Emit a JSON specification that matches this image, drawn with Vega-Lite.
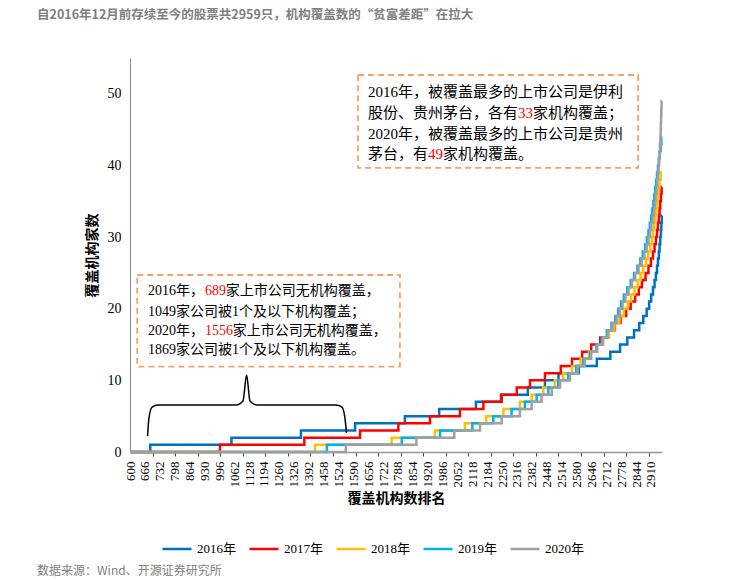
{
  "$schema": "https://vega.github.io/schema/vega-lite/v6.json",
  "width": 532,
  "height": 394,
  "autosize": "none",
  "padding": {"left": 130, "top": 58, "right": 72, "bottom": 128},
  "background": "white",
  "title": {
    "text": "自2016年12月前存续至今的股票共2959只，机构覆盖数的“贫富差距”在拉大",
    "anchor": "start",
    "frame": "group",
    "dx": -93,
    "offset": 37,
    "font": "Noto Sans CJK SC",
    "fontSize": 12.5,
    "fontWeight": "bold",
    "color": "#808080"
  },
  "config": {
    "view": {"stroke": null},
    "axis": {"labelColor": "#000", "titleColor": "#000"},
    "axisX": {"labelOverlap": false, "labelFlush": false, "labelBound": false, "labelAngle": 270, "tickSize": 4, "tickColor": "#444", "labelPadding": 5, "grid": false},
    "axisY": {"labelOverlap": false, "grid": false, "ticks": false}
  },
  "data": {"values": [{}]},
  "datasets": {
    "series": [
      {"s":"2016年","r":600,"v":0},{"s":"2016年","r":690,"v":1},{"s":"2016年","r":1050,"v":2},{"s":"2016年","r":1358,"v":3},{"s":"2016年","r":1598,"v":4},{"s":"2016年","r":1819,"v":5},{"s":"2016年","r":1971,"v":6},{"s":"2016年","r":2134,"v":7},{"s":"2016年","r":2245,"v":8},{"s":"2016年","r":2364,"v":9},{"s":"2016年","r":2440,"v":10},{"s":"2016年","r":2500,"v":11},{"s":"2016年","r":2590,"v":12},{"s":"2016年","r":2670,"v":13},{"s":"2016年","r":2730,"v":14},{"s":"2016年","r":2773,"v":15},{"s":"2016年","r":2805,"v":16},{"s":"2016年","r":2835,"v":17},{"s":"2016年","r":2858,"v":18},{"s":"2016年","r":2876,"v":19},{"s":"2016年","r":2891,"v":20},{"s":"2016年","r":2902,"v":21},{"s":"2016年","r":2911,"v":22},{"s":"2016年","r":2919,"v":23},{"s":"2016年","r":2926,"v":24},{"s":"2016年","r":2932,"v":25},{"s":"2016年","r":2937,"v":26},{"s":"2016年","r":2941,"v":27},{"s":"2016年","r":2945,"v":28},{"s":"2016年","r":2948,"v":29},{"s":"2016年","r":2951,"v":30},{"s":"2016年","r":2954,"v":31},{"s":"2016年","r":2956,"v":32},{"s":"2016年","r":2958,"v":33},{"s":"2016年","r":2959,"v":33},
      {"s":"2017年","r":600,"v":0},{"s":"2017年","r":999,"v":1},{"s":"2017年","r":1373,"v":2},{"s":"2017年","r":1620,"v":3},{"s":"2017年","r":1790,"v":4},{"s":"2017年","r":1930,"v":5},{"s":"2017年","r":2063,"v":6},{"s":"2017年","r":2167,"v":7},{"s":"2017年","r":2248,"v":8},{"s":"2017年","r":2315,"v":9},{"s":"2017年","r":2374,"v":10},{"s":"2017年","r":2440,"v":11},{"s":"2017年","r":2510,"v":12},{"s":"2017年","r":2560,"v":13},{"s":"2017年","r":2605,"v":14},{"s":"2017年","r":2645,"v":15},{"s":"2017年","r":2685,"v":16},{"s":"2017年","r":2720,"v":17},{"s":"2017年","r":2750,"v":18},{"s":"2017年","r":2775,"v":19},{"s":"2017年","r":2800,"v":20},{"s":"2017年","r":2820,"v":21},{"s":"2017年","r":2840,"v":22},{"s":"2017年","r":2856,"v":23},{"s":"2017年","r":2870,"v":24},{"s":"2017年","r":2886,"v":25},{"s":"2017年","r":2899,"v":26},{"s":"2017年","r":2910,"v":27},{"s":"2017年","r":2919,"v":28},{"s":"2017年","r":2926,"v":29},{"s":"2017年","r":2932,"v":30},{"s":"2017年","r":2937,"v":31},{"s":"2017年","r":2941,"v":32},{"s":"2017年","r":2945,"v":33},{"s":"2017年","r":2948,"v":34},{"s":"2017年","r":2951,"v":35},{"s":"2017年","r":2954,"v":36},{"s":"2017年","r":2957,"v":37},{"s":"2017年","r":2959,"v":37},
      {"s":"2018年","r":600,"v":0},{"s":"2018年","r":1420,"v":1},{"s":"2018年","r":1760,"v":2},{"s":"2018年","r":1952,"v":3},{"s":"2018年","r":2085,"v":4},{"s":"2018年","r":2179,"v":5},{"s":"2018年","r":2256,"v":6},{"s":"2018年","r":2329,"v":7},{"s":"2018年","r":2381,"v":8},{"s":"2018年","r":2432,"v":9},{"s":"2018年","r":2484,"v":10},{"s":"2018年","r":2521,"v":11},{"s":"2018年","r":2560,"v":12},{"s":"2018年","r":2598,"v":13},{"s":"2018年","r":2635,"v":14},{"s":"2018年","r":2668,"v":15},{"s":"2018年","r":2698,"v":16},{"s":"2018年","r":2724,"v":17},{"s":"2018年","r":2748,"v":18},{"s":"2018年","r":2770,"v":19},{"s":"2018年","r":2790,"v":20},{"s":"2018年","r":2807,"v":21},{"s":"2018年","r":2822,"v":22},{"s":"2018年","r":2837,"v":23},{"s":"2018年","r":2851,"v":24},{"s":"2018年","r":2864,"v":25},{"s":"2018年","r":2876,"v":26},{"s":"2018年","r":2888,"v":27},{"s":"2018年","r":2898,"v":28},{"s":"2018年","r":2906,"v":29},{"s":"2018年","r":2913,"v":30},{"s":"2018年","r":2919,"v":31},{"s":"2018年","r":2924,"v":32},{"s":"2018年","r":2929,"v":33},{"s":"2018年","r":2933,"v":34},{"s":"2018年","r":2937,"v":35},{"s":"2018年","r":2940,"v":36},{"s":"2018年","r":2944,"v":37},{"s":"2018年","r":2948,"v":38},{"s":"2018年","r":2953,"v":39},{"s":"2018年","r":2959,"v":39},
      {"s":"2019年","r":600,"v":0},{"s":"2019年","r":1473,"v":1},{"s":"2019年","r":1805,"v":2},{"s":"2019年","r":1975,"v":3},{"s":"2019年","r":2118,"v":4},{"s":"2019年","r":2211,"v":5},{"s":"2019年","r":2292,"v":6},{"s":"2019年","r":2351,"v":7},{"s":"2019年","r":2403,"v":8},{"s":"2019年","r":2455,"v":9},{"s":"2019年","r":2499,"v":10},{"s":"2019年","r":2543,"v":11},{"s":"2019年","r":2578,"v":12},{"s":"2019年","r":2610,"v":13},{"s":"2019年","r":2640,"v":14},{"s":"2019年","r":2668,"v":15},{"s":"2019年","r":2692,"v":16},{"s":"2019年","r":2714,"v":17},{"s":"2019年","r":2735,"v":18},{"s":"2019年","r":2752,"v":19},{"s":"2019年","r":2765,"v":20},{"s":"2019年","r":2777,"v":21},{"s":"2019年","r":2790,"v":22},{"s":"2019年","r":2805,"v":23},{"s":"2019年","r":2820,"v":24},{"s":"2019年","r":2835,"v":25},{"s":"2019年","r":2850,"v":26},{"s":"2019年","r":2863,"v":27},{"s":"2019年","r":2874,"v":28},{"s":"2019年","r":2884,"v":29},{"s":"2019年","r":2892,"v":30},{"s":"2019年","r":2899,"v":31},{"s":"2019年","r":2905,"v":32},{"s":"2019年","r":2911,"v":33},{"s":"2019年","r":2916,"v":34},{"s":"2019年","r":2921,"v":35},{"s":"2019年","r":2925,"v":36},{"s":"2019年","r":2929,"v":37},{"s":"2019年","r":2933,"v":38},{"s":"2019年","r":2937,"v":39},{"s":"2019年","r":2941,"v":40},{"s":"2019年","r":2945,"v":41},{"s":"2019年","r":2949,"v":42},{"s":"2019年","r":2953,"v":43},{"s":"2019年","r":2956,"v":44},{"s":"2019年","r":2959,"v":44},
      {"s":"2020年","r":600,"v":0},{"s":"2020年","r":1557,"v":1},{"s":"2020年","r":1870,"v":2},{"s":"2020年","r":2038,"v":3},{"s":"2020年","r":2152,"v":4},{"s":"2020年","r":2248,"v":5},{"s":"2020年","r":2329,"v":6},{"s":"2020年","r":2381,"v":7},{"s":"2020年","r":2425,"v":8},{"s":"2020年","r":2470,"v":9},{"s":"2020年","r":2507,"v":10},{"s":"2020年","r":2551,"v":11},{"s":"2020年","r":2585,"v":12},{"s":"2020年","r":2616,"v":13},{"s":"2020年","r":2645,"v":14},{"s":"2020年","r":2672,"v":15},{"s":"2020年","r":2697,"v":16},{"s":"2020年","r":2719,"v":17},{"s":"2020年","r":2740,"v":18},{"s":"2020年","r":2758,"v":19},{"s":"2020年","r":2772,"v":20},{"s":"2020年","r":2784,"v":21},{"s":"2020年","r":2797,"v":22},{"s":"2020年","r":2811,"v":23},{"s":"2020年","r":2826,"v":24},{"s":"2020年","r":2840,"v":25},{"s":"2020年","r":2855,"v":26},{"s":"2020年","r":2869,"v":27},{"s":"2020年","r":2881,"v":28},{"s":"2020年","r":2891,"v":29},{"s":"2020年","r":2899,"v":30},{"s":"2020年","r":2906,"v":31},{"s":"2020年","r":2912,"v":32},{"s":"2020年","r":2918,"v":33},{"s":"2020年","r":2923,"v":34},{"s":"2020年","r":2927,"v":35},{"s":"2020年","r":2931,"v":36},{"s":"2020年","r":2935,"v":37},{"s":"2020年","r":2938,"v":38},{"s":"2020年","r":2941,"v":39},{"s":"2020年","r":2944,"v":40},{"s":"2020年","r":2946,"v":41},{"s":"2020年","r":2948,"v":42},{"s":"2020年","r":2950,"v":43},{"s":"2020年","r":2952,"v":44},{"s":"2020年","r":2953,"v":45},{"s":"2020年","r":2954,"v":46},{"s":"2020年","r":2955,"v":47},{"s":"2020年","r":2956,"v":48},{"s":"2020年","r":2957,"v":49},{"s":"2020年","r":2959,"v":49}
    ],
    "brace": [
      {"r":678,"v":2.23},{"r":684,"v":4.75},{"r":698,"v":6.28},{"r":724,"v":6.56},{"r":1070,"v":6.56},{"r":1101,"v":7.12},{"r":1117,"v":10.75},{"r":1132,"v":7.12},{"r":1163,"v":6.56},{"r":1513,"v":6.56},{"r":1540,"v":6.28},{"r":1553,"v":4.75},{"r":1560,"v":2.65}
    ]
  },
  "layer": [
    {
      "data": {"name": "series"},
      "mark": {"type": "line", "interpolate": "step-after", "strokeWidth": 2.5},
      "encoding": {
        "x": {
          "field": "r", "type": "quantitative", "title": "覆盖机构数排名",
          "scale": {"domain": [600, 2959], "nice": false, "zero": false},
          "axis": {
            "values": [600,666,700,732,798,800,864,900,930,996,1000,1062,1100,1128,1194,1200,1260,1300,1326,1392,1400,1458,1500,1524,1590,1600,1656,1700,1722,1788,1800,1854,1900,1920,1986,2000,2052,2100,2118,2184,2200,2250,2300,2316,2382,2400,2448,2500,2514,2580,2600,2646,2700,2712,2778,2800,2844,2900,2910],
            "tickCount": 200,
            "format": "d",
            "labelExpr": "(datum.value-600)%66===0 ? datum.label : ''",
            "tickOpacity": {"condition": {"test": "datum.value%100===0 && datum.value>600", "value": 1}, "value": 0},
            "labelOverlap": false,
            "labelFlush": false,
            "labelFont": "Liberation Serif",
            "labelFontSize": 13,
            "domainColor": "#999999",
            "domainWidth": 1.5,
            "titleFont": "Noto Sans CJK SC",
            "titleFontSize": 14,
            "titleFontWeight": "bold",
            "titlePadding": 4
          }
        },
        "y": {
          "field": "v", "type": "quantitative", "title": "覆盖机构家数",
          "scale": {"domain": [0, 55], "nice": false},
          "axis": {
            "values": [0, 10, 20, 30, 40, 50],
            "labelPadding": 9,
            "labelFont": "Liberation Serif",
            "labelFontSize": 14,
            "domainColor": "#888888",
            "titleFont": "Noto Sans CJK SC",
            "titleFontSize": 14,
            "titleFontWeight": "bold",
            "titlePadding": 8
          }
        },
        "color": {
          "field": "s", "type": "nominal",
          "scale": {"domain": ["2016年","2017年","2018年","2019年","2020年"], "range": ["#0070C0","#FF0000","#FFC000","#00B0F0","#A0A0A0"]},
          "legend": {
            "orient": "none", "legendX": 31, "legendY": 475, "direction": "horizontal", "title": null,
            "symbolType": "stroke", "symbolSize": 841, "symbolStrokeWidth": 2.5,
            "labelFont": "Liberation Serif, Noto Sans CJK SC", "labelFontSize": 13, "labelColor": "#000",
            "labelOffset": 4, "columnPadding": 7
          }
        }
      }
    },
    {
      "mark": {"type": "rect", "fill": "white", "stroke": "#F4A26B", "strokeWidth": 1.8, "strokeDash": [6, 4]},
      "encoding": {
        "x": {"datum": 1611, "type": "quantitative"},
        "x2": {"datum": 2853},
        "y": {"datum": 52.63, "type": "quantitative"},
        "y2": {"datum": 39.65}
      }
    },
    {
      "mark": {"type": "rect", "fill": "white", "stroke": "#F4A26B", "strokeWidth": 1.8, "strokeDash": [6, 4]},
      "encoding": {
        "x": {"datum": 632, "type": "quantitative"},
        "x2": {"datum": 1797},
        "y": {"datum": 24.71, "type": "quantitative"},
        "y2": {"datum": 11.91}
      }
    },
    {
      "data": {"name": "brace"},
      "mark": {"type": "line", "interpolate": "monotone", "color": "#000", "strokeWidth": 1.5},
      "encoding": {
        "x": {"field": "r", "type": "quantitative"},
        "y": {"field": "v", "type": "quantitative"}
      }
    },
    {"mark": {"type": "text", "align": "left", "baseline": "middle", "font": "Liberation Serif, Noto Sans CJK SC", "fontSize": 15, "color": "#000"},
     "encoding": {"x": {"datum": 1655, "type": "quantitative"}, "y": {"datum": 50.25, "type": "quantitative"}, "text": {"value": "2016年，被覆盖最多的上市公司是伊利"}}},
    {"mark": {"type": "text", "align": "left", "baseline": "middle", "font": "Liberation Serif, Noto Sans CJK SC", "fontSize": 15, "color": "#000"},
     "encoding": {"x": {"datum": 1655, "type": "quantitative"}, "y": {"datum": 47.35, "type": "quantitative"}, "text": {"value": "股份、贵州茅台，各有"}}},
    {"mark": {"type": "text", "align": "left", "baseline": "middle", "font": "Liberation Serif, Noto Sans CJK SC", "fontSize": 15, "color": "#FF0000"},
     "encoding": {"x": {"datum": 2320, "type": "quantitative"}, "y": {"datum": 47.35, "type": "quantitative"}, "text": {"value": "33"}}},
    {"mark": {"type": "text", "align": "left", "baseline": "middle", "font": "Liberation Serif, Noto Sans CJK SC", "fontSize": 15, "color": "#000"},
     "encoding": {"x": {"datum": 2387, "type": "quantitative"}, "y": {"datum": 47.35, "type": "quantitative"}, "text": {"value": "家机构覆盖；"}}},
    {"mark": {"type": "text", "align": "left", "baseline": "middle", "font": "Liberation Serif, Noto Sans CJK SC", "fontSize": 15, "color": "#000"},
     "encoding": {"x": {"datum": 1655, "type": "quantitative"}, "y": {"datum": 44.45, "type": "quantitative"}, "text": {"value": "2020年，被覆盖最多的上市公司是贵州"}}},
    {"mark": {"type": "text", "align": "left", "baseline": "middle", "font": "Liberation Serif, Noto Sans CJK SC", "fontSize": 15, "color": "#000"},
     "encoding": {"x": {"datum": 1655, "type": "quantitative"}, "y": {"datum": 41.53, "type": "quantitative"}, "text": {"value": "茅台，有"}}},
    {"mark": {"type": "text", "align": "left", "baseline": "middle", "font": "Liberation Serif, Noto Sans CJK SC", "fontSize": 15, "color": "#FF0000"},
     "encoding": {"x": {"datum": 1921, "type": "quantitative"}, "y": {"datum": 41.53, "type": "quantitative"}, "text": {"value": "49"}}},
    {"mark": {"type": "text", "align": "left", "baseline": "middle", "font": "Liberation Serif, Noto Sans CJK SC", "fontSize": 15, "color": "#000"},
     "encoding": {"x": {"datum": 1988, "type": "quantitative"}, "y": {"datum": 41.53, "type": "quantitative"}, "text": {"value": "家机构覆盖。"}}},
    {"mark": {"type": "text", "align": "left", "baseline": "middle", "font": "Liberation Serif, Noto Sans CJK SC", "fontSize": 14, "color": "#000"},
     "encoding": {"x": {"datum": 680, "type": "quantitative"}, "y": {"datum": 22.43, "type": "quantitative"}, "text": {"value": "2016年，"}}},
    {"mark": {"type": "text", "align": "left", "baseline": "middle", "font": "Liberation Serif, Noto Sans CJK SC", "fontSize": 14, "color": "#FF0000"},
     "encoding": {"x": {"datum": 933, "type": "quantitative"}, "y": {"datum": 22.43, "type": "quantitative"}, "text": {"value": "689"}}},
    {"mark": {"type": "text", "align": "left", "baseline": "middle", "font": "Liberation Serif, Noto Sans CJK SC", "fontSize": 14, "color": "#000"},
     "encoding": {"x": {"datum": 1025, "type": "quantitative"}, "y": {"datum": 22.43, "type": "quantitative"}, "text": {"value": "家上市公司无机构覆盖，"}}},
    {"mark": {"type": "text", "align": "left", "baseline": "middle", "font": "Liberation Serif, Noto Sans CJK SC", "fontSize": 14, "color": "#000"},
     "encoding": {"x": {"datum": 680, "type": "quantitative"}, "y": {"datum": 19.59, "type": "quantitative"}, "text": {"value": "1049家公司被1个及以下机构覆盖；"}}},
    {"mark": {"type": "text", "align": "left", "baseline": "middle", "font": "Liberation Serif, Noto Sans CJK SC", "fontSize": 14, "color": "#000"},
     "encoding": {"x": {"datum": 680, "type": "quantitative"}, "y": {"datum": 16.93, "type": "quantitative"}, "text": {"value": "2020年，"}}},
    {"mark": {"type": "text", "align": "left", "baseline": "middle", "font": "Liberation Serif, Noto Sans CJK SC", "fontSize": 14, "color": "#FF0000"},
     "encoding": {"x": {"datum": 933, "type": "quantitative"}, "y": {"datum": 16.93, "type": "quantitative"}, "text": {"value": "1556"}}},
    {"mark": {"type": "text", "align": "left", "baseline": "middle", "font": "Liberation Serif, Noto Sans CJK SC", "fontSize": 14, "color": "#000"},
     "encoding": {"x": {"datum": 1056, "type": "quantitative"}, "y": {"datum": 16.93, "type": "quantitative"}, "text": {"value": "家上市公司无机构覆盖，"}}},
    {"mark": {"type": "text", "align": "left", "baseline": "middle", "font": "Liberation Serif, Noto Sans CJK SC", "fontSize": 14, "color": "#000"},
     "encoding": {"x": {"datum": 680, "type": "quantitative"}, "y": {"datum": 14.24, "type": "quantitative"}, "text": {"value": "1869家公司被1个及以下机构覆盖。"}}},
    {"mark": {"type": "text", "align": "left", "baseline": "middle", "font": "Noto Sans CJK SC", "fontSize": 12, "color": "#808080"},
     "encoding": {"x": {"datum": 188, "type": "quantitative"}, "y": {"datum": -16.61, "type": "quantitative"}, "text": {"value": "数据来源：Wind、开源证券研究所"}}}
  ]
}
